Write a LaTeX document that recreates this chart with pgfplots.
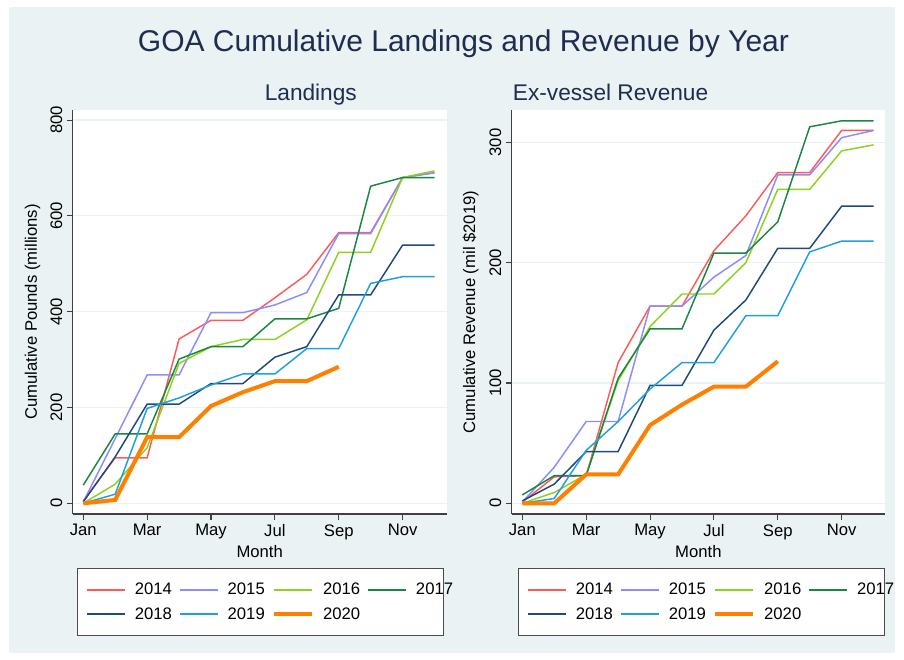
\documentclass[border=0pt]{standalone}
\usepackage{pgfplots}
\pgfplotsset{compat=1.18}
\usepackage{fontspec}
\setmainfont{Liberation Sans}
\definecolor{bgc}{RGB}{234,242,243}
\definecolor{ttl}{RGB}{30,45,80}
\definecolor{c14}{RGB}{255,90,90}
\definecolor{c15}{RGB}{140,140,255}
\definecolor{c16}{RGB}{140,210,30}
\definecolor{c17}{RGB}{25,135,65}
\definecolor{c18}{RGB}{30,75,125}
\definecolor{c19}{RGB}{30,160,220}
\definecolor{c20}{RGB}{255,127,0}
\newcommand{\fs}{\fontsize{12.5}{15}\selectfont}
\pgfplotsset{
  goa/.style={
    scale only axis, width=280.5pt, height=303pt,
    axis x line*=bottom, axis y line*=left,
    axis line style={line width=0.8pt, color=black!75},
    tick style={line width=0.8pt, color=black!75},
    tick align=outside, major tick length=4.3pt,
    ymajorgrids, grid style={color=bgc, line width=0.9pt},
    axis background/.style={fill=white},
    xtick={1,3,5,7,9,11}, xticklabels={Jan,Mar,May,Jul,Sep,Nov},
    minor tick num=0,
    ticklabel style={font=\fs},
    yticklabel style={rotate=90, anchor=south},
    /pgf/number format/assume math mode=true,
    every axis x label/.style={at={(axis description cs:0.5,-0.094)}, anchor=center, font=\fs},
    every axis y label/.style={at={(axis description cs:-0.107,0.5)}, rotate=90, anchor=center, font=\fs},
    xlabel={Month},
    legend columns=4,
    legend image code/.code={\draw[##1] (0pt,0pt) -- (28.5pt,0pt); \path (35.25pt,0pt);},
    legend style={font=\fs, draw=black!70, line width=0.6pt, fill=white,
      inner xsep=6.75pt, inner ysep=9.5pt, row sep=5pt,
      nodes={inner xsep=0pt, inner ysep=1.5pt},
      /tikz/every even column/.append style={column sep=5.5pt}},
    legend cell align=left,
    every axis plot/.append style={line width=1.1pt},
  }
}
\begin{document}
\begin{tikzpicture}
\fill[white] (0,0) rectangle (678pt,495pt);
\fill[bgc] (6.75pt,5.25pt) rectangle (671.25pt,489.75pt);
\node[anchor=base, text=ttl, font=\fontsize{22.5}{26}\selectfont] at (347.6pt,456pt) {GOA Cumulative Landings and Revenue by Year};
\node[anchor=base, text=ttl, font=\fontsize{17}{20}\selectfont] at (233.1pt,419.5pt) {Landings};
\node[anchor=base west, inner xsep=0pt, text=ttl, font=\fontsize{17}{20}\selectfont] at (384.5pt,419.5pt) {Ex-vessel Revenue};

\begin{axis}[goa, at={(54.5pt,109.5pt)}, anchor=south west,
  xmin=0.668, xmax=12.38, ymin=-22.3, ymax=821,
  ytick={0,200,400,600,800},
  ylabel={Cumulative Pounds (millions)},
  legend style={at={(0.0115,-0.1337)}, anchor=north west}]
\addplot[c14] coordinates {(1,5)(2,95)(3,95)(4,343)(5,382)(6,382)(7,429)(8,478)(9,565)(10,565)(11,680)(12,690)};
\addplot[c15] coordinates {(1,3)(2,135)(3,268)(4,268)(5,398)(6,398)(7,414)(8,440)(9,563)(10,563)(11,680)(12,690)};
\addplot[c16] coordinates {(1,0)(2,40)(3,116)(4,292)(5,327)(6,342)(7,342)(8,383)(9,524)(10,524)(11,680)(12,694)};
\addplot[c17] coordinates {(1,38)(2,145)(3,145)(4,301)(5,327)(6,327)(7,385)(8,385)(9,407)(10,662)(11,680)(12,680)};
\addplot[c18] coordinates {(1,3)(2,97)(3,207)(4,207)(5,250)(6,250)(7,305)(8,327)(9,435)(10,435)(11,539)(12,539)};
\addplot[c19] coordinates {(1,0)(2,19)(3,198)(4,220)(5,247)(6,270)(7,270)(8,323)(9,323)(10,459)(11,473)(12,473)};
\addplot[c20, line width=3pt] coordinates {(1,0)(2,7)(3,138)(4,138)(5,203)(6,232)(7,255)(8,255)(9,285)};
\legend{2014,2015,2016,\makebox[14pt][l]{2017},2018,2019,2020}
\end{axis}

\begin{axis}[goa, at={(383.8pt,109.5pt)}, anchor=south west, width=280pt,
  xmin=0.668, xmax=12.36, ymin=-8.9, ymax=327,
  ytick={0,100,200,300},
  ylabel={Cumulative Revenue (mil \$2019)},
  every axis y label/.style={at={(axis description cs:-0.11,0.5)}, rotate=90, anchor=center, font=\fs},
  legend style={at={(0.0169,-0.1337)}, anchor=north west}]
\addplot[c14] coordinates {(1,1)(2,22)(3,23)(4,117)(5,164)(6,164)(7,210)(8,239)(9,275)(10,275)(11,310)(12,310)};
\addplot[c15] coordinates {(1,1)(2,30)(3,68)(4,68)(5,164)(6,164)(7,188)(8,206)(9,273)(10,273)(11,304)(12,310)};
\addplot[c16] coordinates {(1,0)(2,9)(3,24)(4,102)(5,147)(6,174)(7,174)(8,200)(9,261)(10,261)(11,293)(12,298)};
\addplot[c17] coordinates {(1,7)(2,23)(3,23)(4,104)(5,145)(6,145)(7,208)(8,208)(9,234)(10,313)(11,318)(12,318)};
\addplot[c18] coordinates {(1,2)(2,16)(3,43)(4,43)(5,98)(6,98)(7,144)(8,169)(9,212)(10,212)(11,247)(12,247)};
\addplot[c19] coordinates {(1,0)(2,4)(3,44)(4,68)(5,95)(6,117)(7,117)(8,156)(9,156)(10,209)(11,218)(12,218)};
\addplot[c20, line width=3pt] coordinates {(1,0)(2,0)(3,24)(4,24)(5,65)(6,82)(7,97)(8,97)(9,118)};
\legend{2014,2015,2016,\makebox[14pt][l]{2017},2018,2019,2020}
\end{axis}
\end{tikzpicture}
\end{document}
